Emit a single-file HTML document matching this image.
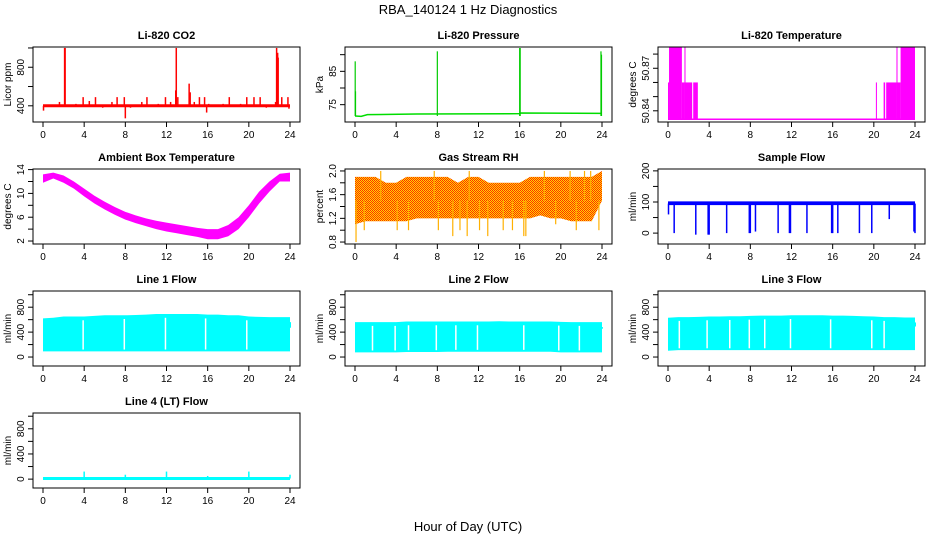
<!DOCTYPE html>
<html><head><meta charset="utf-8">
<style>
html,body{margin:0;padding:0;background:#fff;}
svg{display:block;font-family:"Liberation Sans",Arial,sans-serif;}
</style></head>
<body>
<svg id="chart" width="936" height="540" viewBox="0 0 936 540" xmlns="http://www.w3.org/2000/svg">
<defs>
<pattern id="rhpat" width="2" height="2" patternUnits="userSpaceOnUse">
<rect width="2" height="2" fill="#ffd800"/><rect width="1" height="1" fill="#ff2a00"/><rect x="1" y="1" width="1" height="1" fill="#ff2a00"/>
</pattern>
</defs>
<text x="468" y="14" text-anchor="middle" font-size="13">RBA_140124  1 Hz Diagnostics</text>
<text x="468" y="531" text-anchor="middle" font-size="13">Hour of Day (UTC)</text>
</svg>
<script>
// ---- data ----
const xTicks = [0,4,8,12,16,20,24];
const co2SpikeT = [0.05,1.6,2.1,2.15,3.2,3.9,4.5,5.1,5.8,6.7,7.2,7.9,8.0,8.5,9.6,10.1,11.2,11.9,12.4,12.9,12.95,13.1,14.2,14.3,14.7,15.2,15.7,15.9,16.1,17.5,18.1,19.2,19.8,20.5,21.1,21.7,22.6,22.7,22.8,22.85,23.2,23.8,23.9];
const co2SpikeV = [350,440,1000,1000,420,490,450,490,380,440,490,490,270,380,440,490,420,490,440,560,1000,490,630,540,440,490,490,330,420,420,490,420,490,490,490,380,440,1000,950,900,490,490,370];
const pressBaseT = [0,0.6,1.2,6,16,16.1,24];
const pressBaseV = [71.6,71.5,72.0,72.2,72.3,72.5,72.4];
const pressSpikeT = [0.02,0.05,8.0,16.0,16.05,23.9,23.95];
const pressSpikeV = [88,79,91,92,92,91,90];
const tempBandStart = [0,0.1,1.35,1.6,1.7,2.45,20.2,20.95,21.2,22.2,22.3,22.6];
const tempBandEnd   = [0.1,1.35,1.6,1.7,2.35,2.9,20.3,21.1,22.2,22.3,22.6,24];
const tempBandTop   = [50.86,50.885,50.86,50.885,50.86,50.86,50.86,50.86,50.86,50.885,50.86,50.885];
const tempBase = 50.834;
const hours = [0,1,2,3,4,5,6,7,8,9,10,11,12,13,14,15,16,17,18,19,20,21,22,23,24];
const ambUpper = [13.2,13.5,13.0,12.0,10.8,9.6,8.6,7.7,6.9,6.3,5.8,5.4,5.1,4.8,4.5,4.2,4.0,4.0,4.7,6.0,8.0,10.3,12.0,13.3,13.5];
const ambLower = [11.8,12.5,11.8,10.8,9.5,8.3,7.3,6.4,5.6,5.0,4.5,4.0,3.6,3.3,3.0,2.7,2.3,2.3,2.8,4.0,6.0,8.3,10.3,12.0,12.0];
const rhUpper = [1.9,1.9,1.9,1.8,1.8,1.9,1.9,1.9,1.9,1.9,1.8,1.9,1.9,1.8,1.8,1.8,1.8,1.9,1.9,1.9,1.9,1.9,1.9,1.9,2.0];
const rhLower = [1.1,1.15,1.15,1.15,1.15,1.15,1.2,1.2,1.2,1.2,1.2,1.2,1.2,1.2,1.2,1.2,1.2,1.2,1.25,1.2,1.2,1.15,1.15,1.15,1.5];
const rhSpikeT = [0.1,0.9,2.5,4.1,5.2,7.7,8.1,9.5,10.2,10.9,11.1,12.1,12.9,14.4,15.3,16.4,16.6,18.4,19.5,20.9,21.5,22.3,22.9,23.7];
const rhSpikeV = [0.8,1.0,2.0,1.0,1.0,2.0,1.0,0.9,1.0,0.9,2.0,1.0,0.9,1.0,1.0,0.9,0.9,2.0,1.1,2.0,1.0,2.0,2.0,1.0];
const flowBaseLow = 90, flowBaseHigh = 102;
const flowDipT = [0.05,0.6,2.7,3.9,4.0,5.7,7.9,8.0,8.5,10.7,11.8,11.9,13.5,15.9,16.0,16.5,18.6,19.8,21.5,23.9,24.0];
const flowDipV = [60,0,-5,-5,-5,0,0,0,5,0,0,0,0,0,0,0,0,0,45,5,0];
const line1Upper = [620,630,650,650,650,660,670,670,670,675,680,690,690,690,690,690,680,680,670,670,650,645,640,640,640];
const line1Lower = [90,90,90,90,90,90,90,90,90,90,90,90,90,90,90,90,90,90,90,90,90,90,90,90,90];
const line1Gaps = [3.9,7.9,11.9,15.8,19.8];
const line2Upper = [560,560,560,560,560,570,570,570,570,570,570,570,570,570,575,570,570,570,570,570,565,560,560,560,560];
const line2Lower = [75,75,75,75,75,80,80,80,80,85,85,85,85,85,85,85,85,85,85,85,75,75,75,75,75];
const line2Gaps = [1.7,3.9,5.2,7.9,9.8,11.9,16.4,19.8,21.8];
const line3Upper = [630,640,640,645,650,650,655,655,660,665,665,665,670,670,670,670,665,665,660,655,650,640,640,635,635];
const line3Lower = [100,110,110,110,110,110,110,110,110,110,110,110,110,110,110,110,110,110,110,110,110,110,110,110,110];
const line3Gaps = [1.1,3.8,6.0,7.9,9.4,11.9,15.8,19.8,21.0];
const line4SpikeT = [4.0,8.0,12.0,16.0,20.0,24.0];
const line4SpikeV = [120,70,120,50,120,70];

// ---- layout ----
const svg = document.getElementById('chart');
const NS = 'http://www.w3.org/2000/svg';
const colX = [33,345,658], rowY = [47,169,291,413], PW = 267, PH = 75;
function mk(tag, attrs, parent){ const e=document.createElementNS(NS,tag); for(const k in attrs) e.setAttribute(k,attrs[k]); (parent||svg).appendChild(e); return e; }

function panel(col,row,title,ylab,ymin,ymax,yTicks,yLabels,name){
  const L=colX[col], T=rowY[row];
  const g = mk('g',{});
  
  
  const xs = h => L+10+h*(PW-20)/24;
  const ys = v => T+PH-(v-ymin)/(ymax-ymin)*PH;
  const data = mk('g',{},g);
  
  
  const box = mk('rect',{x:L,y:T,width:PW,height:PH,fill:'none',stroke:'#000','stroke-width':1},g);
  
  
  const t = mk('text',{x:L+PW/2,y:T-8,'text-anchor':'middle','font-size':11,'font-weight':'bold'},g);
  t.textContent = title;
  
  
  const xa = mk('g',{},g);
  
  
  xTicks.forEach(h=>{
    mk('line',{x1:xs(h),x2:xs(h),y1:T+PH,y2:T+PH+5,stroke:'#000'},xa);
    const tl = mk('text',{x:xs(h),y:T+PH+16,'text-anchor':'middle','font-size':10},xa);
    tl.textContent = h;
    
    
  });
  const ya = mk('g',{},g);
  
  
  yTicks.forEach(v=>{ mk('line',{x1:L,x2:L-5,y1:ys(v),y2:ys(v),stroke:'#000'},ya); });
  yLabels.forEach(v=>{
    const tl = mk('text',{x:L-9,y:ys(v),'text-anchor':'middle','font-size':10,transform:`rotate(-90 ${L-9} ${ys(v)})`},ya);
    tl.textContent = v;
    
    
  });
  const yl = mk('text',{x:L-22,y:T+PH/2,'text-anchor':'middle','font-size':10,transform:`rotate(-90 ${L-22} ${T+PH/2})`},ya);
  yl.textContent = ylab;
  
  
  return {xs,ys,g:data};
}
function vbar(p,h,v0,v1,color,w){
  const e = mk('line',{x1:p.xs(h),x2:p.xs(h),y1:p.ys(v0),y2:p.ys(v1),stroke:color,'stroke-width':w||1.5},p.g);
  
  
}
function band(p,up,lo,fill){
  let d='M'+hours.map((h,i)=>p.xs(h)+','+p.ys(up[i])).join('L');
  for(let i=hours.length-1;i>=0;i--) d+='L'+p.xs(hours[i])+','+p.ys(lo[i]);
  const e = mk('path',{d:d+'Z',fill:fill,stroke:'none'},p.g);
  
  
}

// CO2
let p = panel(0,0,'Li-820 CO2','Licor ppm',232,1010,[400,600,800,1000],[400,800],'co2');
const co2Line = mk('line',{x1:p.xs(0),x2:p.xs(24),y1:p.ys(400),y2:p.ys(400),stroke:'#ff0000','stroke-width':3},p.g);


co2SpikeT.forEach((h,i)=>vbar(p,h,400,co2SpikeV[i],'#ff0000',1.5));

// Pressure
p = panel(1,0,'Li-820 Pressure','kPa',69.8,92.3,[75,80,85,90],[75,85],'pressure');
const pl = mk('polyline',{points:pressBaseT.map((h,i)=>p.xs(h)+','+p.ys(pressBaseV[i])).join(' '),fill:'none',stroke:'#00dd00','stroke-width':1.5},p.g);


pressSpikeT.forEach((h,i)=>vbar(p,h,pressBaseV[0],pressSpikeV[i],'#00cc00',1.2));

// Temperature
p = panel(2,0,'Li-820 Temperature','degrees C',50.8321,50.885,[50.84,50.85,50.86,50.87,50.88],['50.84','50.87'],'li820-temp');
const tb = mk('line',{x1:p.xs(0),x2:p.xs(24),y1:p.ys(tempBase),y2:p.ys(tempBase),stroke:'#ff00ff','stroke-width':1.5},p.g);


tempBandStart.forEach((s,i)=>{
  const r = mk('rect',{x:p.xs(s),y:p.ys(tempBandTop[i]),width:Math.max(1,p.xs(tempBandEnd[i])-p.xs(s)),height:p.ys(tempBase)-p.ys(tempBandTop[i]),fill:'#ff00ff'},p.g);
  
  
});

// Ambient
p = panel(0,1,'Ambient Box Temperature','degrees C',1.5,14.1,[2,4,6,8,10,12,14],[2,6,10,14],'ambient');
band(p,ambUpper,ambLower,'#ff00ff');

// RH
p = panel(1,1,'Gas Stream RH','percent',0.767,2.033,[0.8,1.0,1.2,1.4,1.6,1.8,2.0],['0.8','1.2','1.6','2.0'],'rh');
band(p,rhUpper,rhLower,'url(#rhpat)');
rhSpikeT.forEach((h,i)=>vbar(p,h,1.5,rhSpikeV[i],'#ffb000',1.2));

// Sample flow
p = panel(2,1,'Sample Flow','ml/min',-35,206,[0,50,100,150,200],[0,100,200],'sample-flow');
const fb = mk('rect',{x:p.xs(0),y:p.ys(flowBaseHigh),width:p.xs(24)-p.xs(0),height:p.ys(flowBaseLow)-p.ys(flowBaseHigh),fill:'#0000ff'},p.g);


flowDipT.forEach((h,i)=>vbar(p,h,95,flowDipV[i],'#0000ff',1.5));

// Line flows
function linePanel(col,row,title,up,lo,gaps,name){
  const q = panel(col,row,title,'ml/min',-144,1060,[0,200,400,600,800,1000],[0,400,800],name);
  band(q,up,lo,'#00ffff');
  gaps.forEach(h=>vbar(q,h,lo[Math.round(h)]+30,up[Math.round(h)]-60,'#ffffff',1.5));
  vbar(q,24,lo[24]+380,up[24]-80,'#00ffff',2);
  return q;
}
linePanel(0,2,'Line 1 Flow',line1Upper,line1Lower,line1Gaps,'line1-flow');
linePanel(1,2,'Line 2 Flow',line2Upper,line2Lower,line2Gaps,'line2-flow');
linePanel(2,2,'Line 3 Flow',line3Upper,line3Lower,line3Gaps,'line3-flow');

p = panel(0,3,'Line 4 (LT) Flow','ml/min',-141,1051,[0,200,400,600,800,1000],[0,400,800],'line4-flow');
const l4 = mk('line',{x1:p.xs(0),x2:p.xs(24),y1:p.ys(10),y2:p.ys(10),stroke:'#00ffff','stroke-width':3},p.g);


line4SpikeT.forEach((h,i)=>vbar(p,h,10,line4SpikeV[i],'#00ffff',1.5));
</script>
</body></html>
